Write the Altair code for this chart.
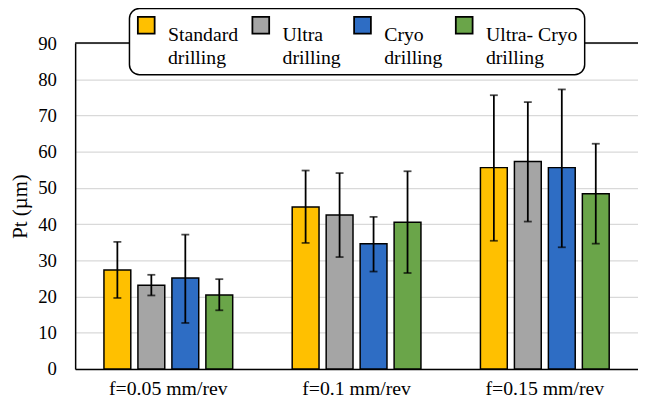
import altair as alt
import pandas as pd

groups = ["f=0.05 mm/rev", "f=0.1 mm/rev", "f=0.15 mm/rev"]
methods = ["Standard drilling", "Ultra drilling", "Cryo drilling", "Ultra- Cryo drilling"]
colors = ["#FFC000", "#A5A5A5", "#2E6DC4", "#6AA549"]

standard = [27.3, 44.7, 55.6]
ultra = [23.1, 42.5, 57.3]
cryo = [25.1, 34.6, 55.6]
ucryo = [20.4, 40.5, 48.4]

standard_lo = [19.6, 34.8, 35.4]
standard_hi = [35.1, 54.8, 75.6]
ultra_lo = [20.3, 30.9, 40.7]
ultra_hi = [26.0, 54.1, 73.7]
cryo_lo = [12.7, 26.9, 33.6]
cryo_hi = [37.1, 42.0, 77.2]
ucryo_lo = [16.2, 26.5, 34.6]
ucryo_hi = [24.8, 54.6, 62.2]

vals = [standard, ultra, cryo, ucryo]
los = [standard_lo, ultra_lo, cryo_lo, ucryo_lo]
his = [standard_hi, ultra_hi, cryo_hi, ucryo_hi]

rows = []
for mi, m in enumerate(methods):
    for gi, g in enumerate(groups):
        rows.append({"group": g, "method": m, "value": vals[mi][gi],
                     "lo": los[mi][gi], "hi": his[mi][gi]})
df = pd.DataFrame(rows)

FONT = "'Liberation Serif', 'Times New Roman', Times, serif"
TITLE = "Pt (µm)"

x = alt.X("group:N", sort=groups, title=None,
          scale=alt.Scale(paddingInner=0.316, paddingOuter=0.153),
          axis=alt.Axis(labelAngle=0, labelFont=FONT, labelFontSize=20, labelColor="#000",
                        ticks=False, labelPadding=10, domainColor="#000", domainWidth=1.5))
xoff = alt.XOffset("method:N", sort=methods, scale=alt.Scale(paddingInner=0.21, paddingOuter=0))
yscale = alt.Scale(domain=[0, 90], nice=False)
yaxis = alt.Axis(values=list(range(0, 91, 10)), labelFont=FONT, labelFontSize=19,
                 labelColor="#000", ticks=False, labelPadding=19,
                 titleFont=FONT, titleFontSize=21, titleFontWeight="normal",
                 titleColor="#000", titlePadding=7,
                 domainColor="#000", domainWidth=1.5,
                 gridColor="#D9D9D9", gridWidth=1.3)

label_expr = (
    "datum.label == 'Standard drilling' ? ['Standard', '\u00a0\u2009drilling'] : "
    "datum.label == 'Ultra drilling' ? ['\u2002Ultra', 'drilling'] : "
    "datum.label == 'Cryo drilling' ? ['\u2002Cryo', 'drilling'] : "
    "['Ultra- Cryo', '\u2003drilling']"
)

base = alt.Chart(df)

bars = base.mark_bar(stroke="#000", strokeWidth=1.5).encode(
    x=x, xOffset=xoff,
    y=alt.Y("value:Q", title=TITLE, scale=yscale, axis=yaxis),
    color=alt.Color("method:N", sort=methods,
                    scale=alt.Scale(domain=methods, range=colors),
                    legend=alt.Legend(
                        title=None, orient="none", legendX=55, legendY=-35,
                        direction="horizontal", columns=4, columnPadding=9,
                        symbolType="square", symbolSize=289,
                        symbolStrokeColor="#000", symbolStrokeWidth=1.8,
                        labelFont=FONT, labelFontSize=20, labelColor="#000",
                        labelBaseline="top", labelOffset=12, labelLimit=300,
                        labelExpr=label_expr,
                        padding=7, fillColor="white", strokeColor="#000")),
)

rules = base.mark_rule(color="#000", strokeWidth=1.8).encode(
    x=x, xOffset=xoff,
    y=alt.Y("lo:Q", title=TITLE, scale=yscale, axis=yaxis), y2="hi:Q")

caps_lo = base.mark_tick(color="#000", thickness=1.8, size=8, orient="horizontal").encode(
    x=x, xOffset=xoff, y=alt.Y("lo:Q", title=TITLE, scale=yscale, axis=yaxis))
caps_hi = base.mark_tick(color="#000", thickness=1.8, size=8, orient="horizontal").encode(
    x=x, xOffset=xoff, y=alt.Y("hi:Q", title=TITLE, scale=yscale, axis=yaxis))

top = alt.Chart(pd.DataFrame({"v": [0]})).mark_rule(color="#000", strokeWidth=1.5).encode(
    y=alt.value(0))

chart = alt.layer(bars, rules, caps_lo, caps_hi, top).properties(
    width=570, height=330,
    autosize=alt.AutoSizeParams(type="none"),
    padding={"left": 68, "top": 33, "right": 0, "bottom": 35},
).configure(
    background="white", style={"guide-label": {"lineHeight": 23}}
).configure_view(stroke=None).configure_legend(cornerRadius=10, strokeWidth=1.5)

chart.save("out.html", embed_options={"renderer": "svg", "actions": False})
